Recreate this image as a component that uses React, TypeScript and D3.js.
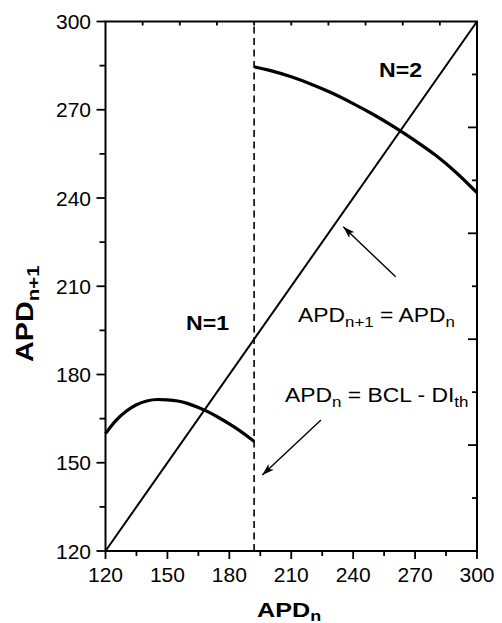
import React from "react";
import * as d3 from "d3";

// ---- data ----
const identityX = [120, 300];
const n1X = [120, 125, 130, 135, 140, 145, 150, 155, 160, 165, 170, 175, 180, 185, 190, 192];
const n1Y = [159.9, 164.3, 167.5, 169.7, 171.0, 171.5, 171.4, 171.0, 170.1, 168.8, 167.2, 165.3, 163.2, 160.9, 158.3, 157.2];
const n2X = [192, 200, 210, 220, 230, 240, 250, 260, 270, 280, 290, 300];
const n2Y = [284.6, 283.3, 281.2, 278.6, 275.6, 272.1, 268.3, 264.1, 259.5, 254.5, 248.6, 241.8];
const thresholdX = 192;
const xTicks = [120, 150, 180, 210, 240, 270, 300];
const xMinor = [135, 165, 195, 225, 255, 285];
const yTicks = [120, 150, 180, 210, 240, 270, 300];
const yMinor = [135, 165, 195, 225, 255, 285];
const topTickIdx = [1, 2, 3, 4, 5, 6, 7, 8, 9];
const rightTickIdx = [1, 2, 3, 4, 5, 6, 7, 8, 9];

const W = 502, H = 623;
const L = 105.5, R = 477, T = 21.5, B = 551;
const FONT = "'Liberation Sans', Arial, Helvetica, sans-serif";

export default function App() {
  const x = d3.scaleLinear().domain([120, 300]).range([L, R]);
  const y = d3.scaleLinear().domain([120, 300]).range([B, T]);
  const xTop = d3.scaleLinear().domain([0, 10]).range([L, R]);
  const yRight = d3.scaleLinear().domain([0, 10]).range([T, B]);

  const line = d3.line<[number, number]>().x(d => x(d[0])).y(d => y(d[1])).curve(d3.curveMonotoneX);
  const n1 = line(n1X.map((v, i) => [v, n1Y[i]] as [number, number]))!;
  const n2 = line(n2X.map((v, i) => [v, n2Y[i]] as [number, number]))!;
  const diag = line(identityX.map(v => [v, v] as [number, number]))!;

  const arrows = [
    { x1: 260.6, y1: 213.2, x2: 235.2, y2: 230.2 },
    { x1: 224.4, y1: 164.5, x2: 196.0, y2: 145.8 },
  ];

  return (
    <svg width={W} height={H} style={{ position: "absolute", left: 0, top: 0, background: "#fff" }}>
      <defs>
        <marker id="ah" viewBox="0 0 12 8" refX="12" refY="4" markerWidth="12" markerHeight="8" orient="auto" markerUnits="userSpaceOnUse">
          <path d="M0,0 L12,4 L0,8 L3,4 Z" fill="#000" />
        </marker>
      </defs>
      {/* curves */}
      <path d={diag} fill="none" stroke="#000" strokeWidth={2} />
      <path d={n1} fill="none" stroke="#000" strokeWidth={3.2} />
      <path d={n2} fill="none" stroke="#000" strokeWidth={3.2} />
      <line x1={x(thresholdX)} x2={x(thresholdX)} y1={y(120)} y2={y(300)} stroke="#000" strokeWidth={1.6} strokeDasharray="7,4.5" />
      {arrows.map((a, i) => (
        <line key={i} x1={x(a.x1)} y1={y(a.y1)} x2={x(a.x2)} y2={y(a.y2)} stroke="#000" strokeWidth={1.4} markerEnd="url(#ah)" />
      ))}
      {/* frame */}
      <rect x={L} y={T} width={R - L} height={B - T} fill="none" stroke="#000" strokeWidth={2} />
      {/* bottom ticks */}
      {xTicks.map(t => (
        <g key={"xt" + t}>
          <line x1={x(t)} x2={x(t)} y1={B} y2={B + 8} stroke="#000" strokeWidth={1.8} />
          <text x={x(t)} y={582} textAnchor="middle" fontFamily={FONT} fontSize={21}>{t}</text>
        </g>
      ))}
      {xMinor.map(t => (
        <line key={"xm" + t} x1={x(t)} x2={x(t)} y1={B} y2={B + 5} stroke="#000" strokeWidth={1.8} />
      ))}
      {/* left ticks */}
      {yTicks.map(t => (
        <g key={"yt" + t}>
          <line x1={L - 9} x2={L} y1={y(t)} y2={y(t)} stroke="#000" strokeWidth={1.8} />
          <text x={91} y={y(t) + 7.5} textAnchor="end" fontFamily={FONT} fontSize={21}>{t}</text>
        </g>
      ))}
      {yMinor.map(t => (
        <line key={"ym" + t} x1={L - 6} x2={L} y1={y(t)} y2={y(t)} stroke="#000" strokeWidth={1.8} />
      ))}
      {/* top ticks */}
      {topTickIdx.map(k => (
        <line key={"tt" + k} x1={xTop(k)} x2={xTop(k)} y1={T} y2={T + 4} stroke="#000" strokeWidth={1.8} />
      ))}
      {/* right ticks */}
      {rightTickIdx.map(k => (
        <line key={"rt" + k} x1={R - (k % 2 === 0 ? 9 : 5)} x2={R} y1={yRight(k)} y2={yRight(k)} stroke="#000" strokeWidth={1.8} />
      ))}
      {/* axis titles */}
      <text transform="translate(257,617) scale(1.2,1)" fontFamily={FONT} fontSize={21} fontWeight="bold">
        APD<tspan fontSize={15} dy={3.5}>n</tspan>
      </text>
      <text transform="translate(33,362) rotate(-90) scale(1.2,1)" fontFamily={FONT} fontSize={24} fontWeight="bold">
        APD<tspan fontSize={17} dy={6}>n+1</tspan>
      </text>
      {/* labels */}
      <text transform="translate(186,330) scale(1.1,1)" fontFamily={FONT} fontSize={21} fontWeight="bold">N=1</text>
      <text transform="translate(379,77) scale(1.1,1)" fontFamily={FONT} fontSize={21} fontWeight="bold">N=2</text>
      <text transform="translate(298,322) scale(1.09,1)" fontFamily={FONT} fontSize={21}>
        APD<tspan fontSize={15.5} dy={5}>n+1</tspan><tspan dy={-5}> = APD</tspan><tspan fontSize={15.5} dy={5}>n</tspan>
      </text>
      <text transform="translate(285,402) scale(1.09,1)" fontFamily={FONT} fontSize={21}>
        APD<tspan fontSize={15.5} dy={5}>n</tspan><tspan dy={-5}> = BCL - DI</tspan><tspan fontSize={15.5} dy={5}>th</tspan>
      </text>
    </svg>
  );
}
